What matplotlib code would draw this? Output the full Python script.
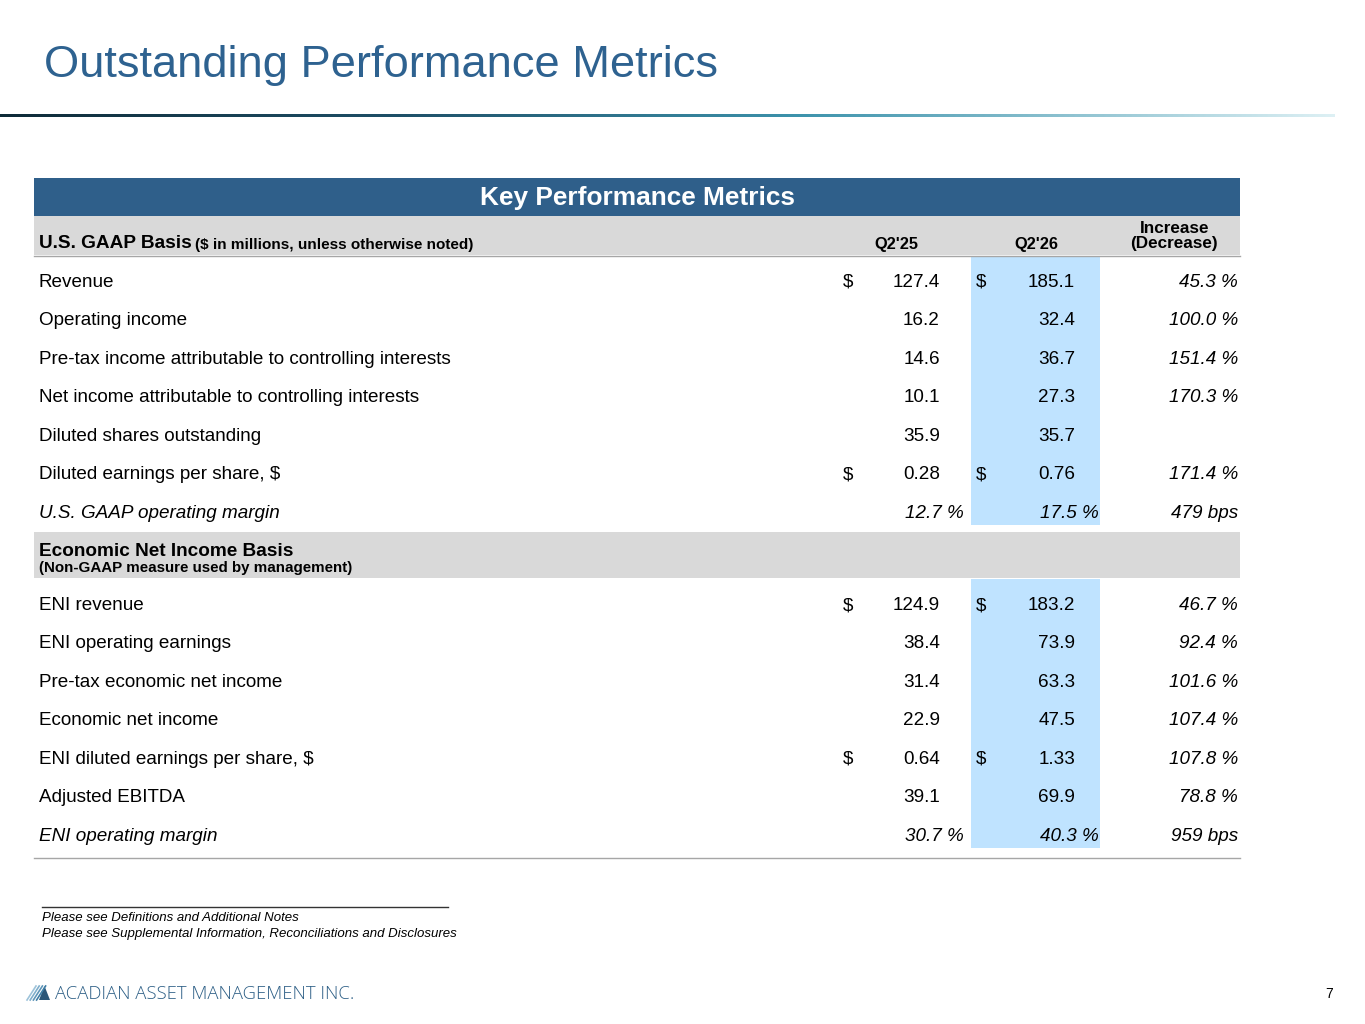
import numpy as np
import matplotlib.pyplot as plt
import matplotlib.patches as patches
from matplotlib.colors import LinearSegmentedColormap

plt.rcParams['font.family'] = ['Liberation Sans', 'DejaVu Sans']

# ---- data ----
gaap_labels = ["Revenue", "Operating income",
               "Pre-tax income attributable to controlling interests",
               "Net income attributable to controlling interests",
               "Diluted shares outstanding", "Diluted earnings per share, $",
               "U.S. GAAP operating margin"]
gaap_q225 = [127.4, 16.2, 14.6, 10.1, 35.9, 0.28, 12.7]
gaap_q226 = [185.1, 32.4, 36.7, 27.3, 35.7, 0.76, 17.5]
gaap_change = ["45.3 %", "100.0 %", "151.4 %", "170.3 %", "", "171.4 %", "479 bps"]
gaap_dollar = [True, False, False, False, False, True, False]

eni_labels = ["ENI revenue", "ENI operating earnings", "Pre-tax economic net income",
              "Economic net income", "ENI diluted earnings per share, $",
              "Adjusted EBITDA", "ENI operating margin"]
eni_q225 = [124.9, 38.4, 31.4, 22.9, 0.64, 39.1, 30.7]
eni_q226 = [183.2, 73.9, 63.3, 47.5, 1.33, 69.9, 40.3]
eni_change = ["46.7 %", "92.4 %", "101.6 %", "107.4 %", "107.8 %", "78.8 %", "959 bps"]
eni_dollar = [True, False, False, False, True, False, False]

col_headers = ["Q2'25", "Q2'26", "Increase\n(Decrease)"]

TITLE_BLUE = '#2E6290'
BAR_BLUE = '#2F5F8A'
HILITE = '#BFE3FF'
GREY = '#D9D9D9'

fig = plt.figure(figsize=(13.65, 10.24), dpi=100)
ax = fig.add_axes([0, 0, 1, 1])
ax.axis('off')

# title + gradient rule
ax.text(44, 65, "Outstanding Performance Metrics", fontsize=32.6, color=TITLE_BLUE,
        va='center', ha='left')
rule_cmap = LinearSegmentedColormap.from_list(
    'rule', [(0, '#0F2B38'), (0.3, '#1E5068'), (0.6, '#3D93AC'), (1, '#DDF0F4')])
ax.imshow(np.linspace(0, 1, 512)[None, :], cmap=rule_cmap, aspect='auto',
          extent=(0, 1335, 117.5, 114.5), interpolation='bilinear')
ax.set_xlim(0, 1365)
ax.set_ylim(1024, 0)

# table frame
X0, X1 = 34, 1240
ax.add_patch(patches.Rectangle((X0, 178), X1 - X0, 38, color=BAR_BLUE, lw=0))
ax.text((X0 + X1) / 2, 198, "Key Performance Metrics", color='white', fontsize=18.9,
        fontweight='bold', ha='center', va='center')
ax.add_patch(patches.Rectangle((X0, 216), X1 - X0, 39, color=GREY, lw=0))
ax.plot([X0, X1], [255.5, 255.5], color='#A6A6A6', lw=1)
ax.text(39, 244, "U.S. GAAP Basis", fontsize=13.7, fontweight='bold', va='center')
ax.text(195, 245, "($ in millions, unless otherwise noted)", fontsize=11,
        fontweight='bold', va='center')
ax.text(918, 244, col_headers[0], fontsize=11.8, fontweight='bold', ha='right', va='center')
ax.text(1058, 244, col_headers[1], fontsize=11.8, fontweight='bold', ha='right', va='center')
ax.text(1218, 236, col_headers[2], fontsize=12.3, fontweight='bold', ha='right',
        va='center', multialignment='center', linespacing=1.0)

X_D1, X_V1 = 843, 940
X_D2, X_V2 = 976, 1075
X_CH = 1238
STEP = 38.45
FS = 13.6


def fmt(v, label):
    return f"{v:.2f}" if "per share" in label else f"{v:.1f}"


def draw_block(y0, labels, q225, q226, change, dollar):
    n = len(labels)
    ax.add_patch(patches.Rectangle((971, y0 - 25), 129, STEP * (n - 1) + 38,
                                   color=HILITE, lw=0))
    for i, lab in enumerate(labels):
        y = y0 + 1.5 + i * STEP
        margin = "margin" in lab
        style = 'italic' if margin else 'normal'
        ax.text(39, y, lab, fontsize=FS, style=style, va='center')
        if dollar[i]:
            ax.text(X_D1, y, "$", fontsize=FS, va='center')
            ax.text(X_D2, y, "$", fontsize=FS, va='center')
        for xv, v in ((X_V1, q225[i]), (X_V2, q226[i])):
            if margin:
                ax.text(xv + 24, y, f"{fmt(v, lab)} %", fontsize=FS, style='italic',
                        ha='right', va='center')
            else:
                ax.text(xv, y, fmt(v, lab), fontsize=FS, ha='right', va='center')
        ax.text(X_CH, y, change[i], fontsize=FS, style='italic', ha='right', va='center')


draw_block(281, gaap_labels, gaap_q225, gaap_q226, gaap_change, gaap_dollar)

ax.add_patch(patches.Rectangle((X0, 532), X1 - X0, 46, color=GREY, lw=0))
ax.text(39, 551, "Economic Net Income Basis", fontsize=13.7, fontweight='bold', va='center')
ax.text(39, 568, "(Non-GAAP measure used by management)", fontsize=10.9,
        fontweight='bold', va='center')

draw_block(604, eni_labels, eni_q225, eni_q226, eni_change, eni_dollar)
ax.plot([X0, X1], [857.5, 857.5], color='#A6A6A6', lw=1)

# footnotes
ax.plot([42, 448], [907, 907], color='#333333', lw=1)
ax.text(42, 918, "Please see Definitions and Additional Notes", fontsize=9.55,
        style='italic', va='center')
ax.text(42, 934, "Please see Supplemental Information, Reconciliations and Disclosures",
        fontsize=9.55, style='italic', va='center')

# logo
for k, c in enumerate(['#9DC3DA', '#7FAECB', '#5F96B9', '#3F7EA6']):
    ax.plot([27 + 3.2 * k, 36 + 3.2 * k], [1000, 986], color=c, lw=1.2)
ax.add_patch(patches.Polygon([[39, 1000], [44.5, 986], [50, 1000]], closed=True,
                             color='#2B5678', lw=0))
ax.text(55, 994, "ACADIAN ASSET MANAGEMENT INC.", fontsize=13.3, color='#2D5F86',
        family=['Open Sans', 'DejaVu Sans'], fontweight='light', va='center')
ax.text(1333, 994, "7", fontsize=10, ha='right', va='center')

fig.savefig("out.png", dpi=100)
